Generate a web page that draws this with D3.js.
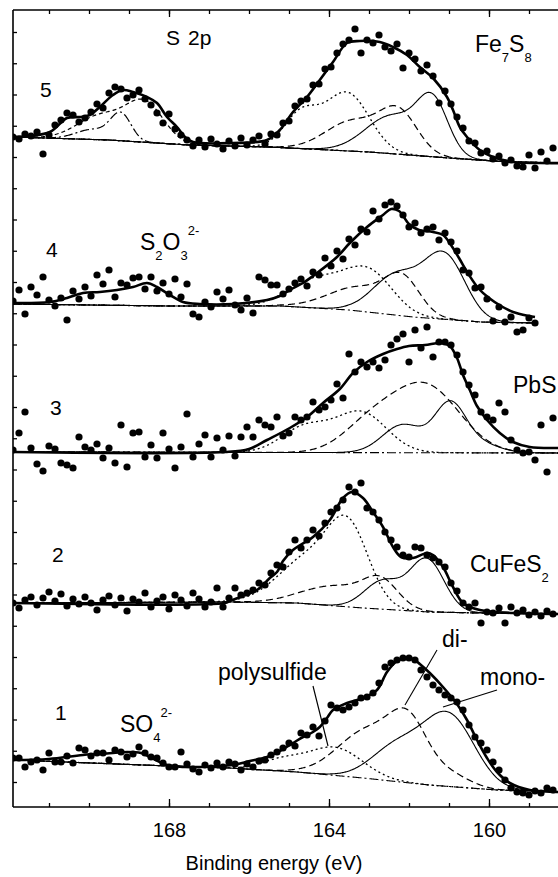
<!DOCTYPE html>
<html>
<head>
<meta charset="utf-8">
<script src="https://cdn.jsdelivr.net/npm/d3@7"></script>
<style>
  body { margin: 0; background: #fff; }
  text { font-family: "Liberation Sans", Arial, sans-serif; fill: #000; }
</style>
</head>
<body>
<div id="chart"></div>
<script>
// ---- data (binding energy in eV, intensity in arbitrary counts) ----
var spectrumLabels = ["1", "2", "3", "4", "5"];
var offsets = [47, 204, 355, 504, 670];      // vertical shift of each spectrum
var eStart = 171.9, eStep = 0.15;            // energy grid of the measured points
var xMajorTicks = [168, 164, 160];
var xMinorTicks = [159, 160, 161, 162, 163, 164, 165, 166, 167, 168, 169, 170, 171];

// measured points (relative to each spectrum's offset)
var dots1 = [2,2,-7,-2,0,-10,7,-2,-2,4, -3,12,10,4,7,7,0,10,8,3, 6,13,7,3,2,-3,-7,-7,8,-4,
  -9,-12,-5,-8,-3,-7,-2,-4,-10,-4, -7,-1,0,5,8,12,17,14,27,25, 33,24,39,55,52,50,53,57,62,63,
  67,77,93,97,100,102,102,100,90,83, 75,70,65,62,58,50,35,23,17,10, -2,-10,-20,-28,-32,-33,-35,-31,-33,-28, -30];
var dots2 = [0,-5,3,6,-2,5,11,2,9,-3, 4,-1,6,0,-7,3,7,-2,5,-8, 4,1,10,-4,2,6,-6,8,3,-3,
  10,4,-4,1,15,-4,5,15,8,10, 13,20,18,30,38,36,51,63,55,63, 73,67,80,91,95,103,116,111,120,95,
  91,83,71,63,56,48,46,56,55,48, 45,41,36,20,12,0,-4,0,-20,-9, -10,-5,-20,-4,-10,-7,-12,-9,-13,-8, -11];
var dots3 = [2,19,40,4,-12,-19,6,3,-11,-13, -16,15,5,2,8,-6,4,-11,27,-15, 19,20,-5,7,-6,19,3,-16,5,38,
  -5,8,17,-5,14,2,16,-4,15,25, 15,32,27,25,35,16,19,35,32,35, 50,42,45,52,68,54,98,80,90,85,
  90,84,92,107,113,118,90,122,104,125, 95,110,110,107,97,80,67,57,40,35, 32,49,40,12,2,-1,0,-8,27,-20, 34];
var dots4 = [2,13,-11,16,8,26,3,-3,5,-17, 12,4,16,7,28,19,33,6,20,18, 25,26,14,26,12,20,9,24,6,19,
  -11,-14,1,-4,11,4,13,-2,-7,5, -10,26,23,18,18,9,14,20,24,17, 31,28,45,37,52,44,64,58,74,71,
  92,84,98,101,97,88,76,80,70,74, 76,63,70,61,52,33,30,15,16,4, -18,-4,-19,-14,-29,-27,-15,-20];
var dots5 = [0,-2,3,1,5,-17,2,12,17,24, 22,15,19,25,33,29,44,50,48,39, 42,47,38,32,24,14,23,8,2,-3,
  -9,-3,-10,-2,-7,-12,-4,-9,-1,-8, -3,1,-7,3,2,14,16,31,36,38, 52,53,68,70,84,93,97,108,84,97,
  94,102,90,86,93,69,84,78,66,72, 61,34,46,33,20,9,-4,-6,-16,-14, -22,-19,-26,-23,-29,-30,-18,-31,-15,-24, -11];

// fitted envelopes [eV, intensity]
var env1 = [[171.9,0],[171.0,1],[170.15,5],[169.4,7],[169.05,8],[168.7,7],[168.48,3],[168.05,-5],[167.6,-7],[167.23,-7],
  [166.4,-5],[165.98,-1],[165.55,3],[165.23,9],[164.9,17],[164.65,23],[164.4,28],[164.23,33],[164.05,42],[163.9,50],
  [163.55,57],[163.15,62],[162.8,70],[162.55,88],[162.3,99],[162.1,102],[161.9,101],[161.73,96],[161.48,87],[161.15,73],
  [160.8,56],[160.55,40],[160.3,20],[160.05,2],[159.8,-12],[159.48,-23],[158.98,-30],[158.28,-32],[158.0,-32]];
var env2 = [[171.9,0],[166.6,0],[166.48,2],[166.15,7],[165.8,13],[165.48,25],[165.3,31],[165.15,42],[164.9,53],[164.4,66],
  [163.98,83],[163.65,105],[163.43,111],[163.15,105],[162.9,91],[162.65,76],[162.4,56],[162.2,46],[161.9,45],[161.55,50],
  [161.4,48],[161.15,36],[160.9,16],[160.65,0],[160.23,-7],[159.4,-10],[158.0,-11]];
var env3 = [[171.9,0],[166.6,0],[166.0,3],[165.55,12],[164.98,24],[164.55,35],[164.15,49],[163.73,63],[163.4,79],[163.05,90],
  [162.65,98],[162.3,103],[162.0,106],[161.6,107],[161.2,109],[160.98,106],[160.8,94],[160.65,77],[160.48,62],[160.3,46],
  [160.05,32],[159.73,19],[159.4,10],[158.98,5],[158.28,4],[158.0,4]];
var env4 = [[171.9,0],[170.98,1],[170.55,5],[170.15,10],[169.73,11],[169.3,13],[168.9,16],[168.55,20],[168.3,16],[167.98,8],
  [167.65,1],[167.23,-1],[166.4,-1],[165.55,3],[165.23,7],[164.98,13],[164.65,20],[164.3,30],[163.8,46],[163.48,60],
  [163.05,76],[162.65,88],[162.45,94],[162.25,92],[162.0,79],[161.75,73],[161.4,71],[161.15,68],[160.95,58],[160.75,45],
  [160.5,28],[160.25,14],[160.0,5],[159.7,-3],[159.4,-9],[159.0,-13],[158.85,-14]];
var env5 = [[171.9,0],[170.98,5],[170.55,19],[170.23,20],[169.98,22],[169.73,30],[169.4,42],[169.15,47],[168.9,45],[168.55,40],
  [168.3,34],[168.05,20],[167.8,10],[167.6,0],[167.4,-5],[166.4,-6],[165.55,-3],[165.23,7],[164.9,25],[164.55,40],
  [164.23,57],[163.9,75],[163.55,94],[163.23,96],[162.73,95],[162.4,90],[162.05,82],[161.73,70],[161.4,59],[161.05,40],
  [160.9,27],[160.73,10],[160.55,0],[160.23,-13],[159.9,-20],[159.4,-25],[158.73,-26],[158.0,-26]];

// backgrounds [eV, intensity]
var bg1 = [[171.9,0],[168,-6],[166.5,-8],[164.8,-12],[163.15,-18],[161.5,-25],[159.8,-30],[158.0,-32]];
var bg2 = [[171.9,0],[166.5,1],[164.8,0],[163.15,-5],[161.5,-9],[160.2,-10],[158.0,-11]];
var bg3 = [[171.9,0],[158.0,-1]];
var bg4 = [[171.9,-1],[168,-3],[165.2,-3],[163.5,-7],[161.9,-14],[160.2,-19],[158.85,-20]];
var bg5 = [[171.9,0],[169.5,-3],[167.5,-8],[165.5,-10],[163,-15],[161,-21],[159.5,-25],[158.0,-26]];

// fitted components: peaks [centre eV, height above background, FWHM eV]
var mono1 = [[161.0,70,1.5],[162.3,34,1.5]];
var di1   = [[162.0,50,1.1],[163.0,48,1.8],[161.0,12,1.2]];
var poly1 = [[163.85,28,1.6],[165.2,10,1.2]];
var mono2 = [[161.55,52,1.0],[162.65,28,1.1]];
var di2   = [[162.7,24,1.0],[163.8,20,2.0]];
var poly2 = [[163.5,70,1.2],[164.5,45,1.8]];
var mono3 = [[160.98,46,0.9],[162.15,28,1.2],[160.3,10,1.2]];
var di3   = [[161.6,67,2.0],[163.0,25,1.6]];
var poly3 = [[163.2,40,1.5],[164.6,25,1.4]];
var mono4 = [[161.1,62,1.2],[162.3,40,1.4]];
var di4   = [[162.15,32,1.0],[163.2,24,1.9]];
var poly4 = [[163.0,40,1.4],[164.3,28,1.6]];
var mono5 = [[161.4,50,0.9],[162.4,38,1.6]];
var di5   = [[162.25,40,1.1],[163.4,30,1.6]];
var poly5 = [[163.55,58,1.3],[164.7,34,1.0]];
var sulfA5 = [[168.6,38,1.1],[169.7,24,1.4]];
var sulfB5 = [[169.2,26,0.6],[169.9,10,1.0]];

var ends = [158.0, 158.0, 158.0, 158.85, 158.0];

// ---- build spectra table ----
var styles = {
  mono:  { dash: null,        w: 1.1 },
  di:    { dash: "7,4",       w: 1.2 },
  poly:  { dash: "2,3",       w: 1.3 },
  sulfA: { dash: "4,3",       w: 1.2 },
  sulfB: { dash: "9,3,2,3",   w: 1.2 }
};
var spectra = [
  { dots: dots1, env: env1, bg: bg1, comps: [["mono", mono1], ["di", di1], ["poly", poly1]] },
  { dots: dots2, env: env2, bg: bg2, comps: [["mono", mono2], ["di", di2], ["poly", poly2]] },
  { dots: dots3, env: env3, bg: bg3, comps: [["mono", mono3], ["di", di3], ["poly", poly3]] },
  { dots: dots4, env: env4, bg: bg4, comps: [["mono", mono4], ["di", di4], ["poly", poly4]] },
  { dots: dots5, env: env5, bg: bg5, comps: [["mono", mono5], ["di", di5], ["poly", poly5], ["sulfA", sulfA5], ["sulfB", sulfB5]] }
];
spectra.forEach(function(s, i) { s.offset = offsets[i]; s.end = ends[i]; s.label = spectrumLabels[i]; });

// ---- chart ----
var W = 558, H = 877;
var svg = d3.select("#chart").append("svg").attr("width", W).attr("height", H);

var x = d3.scaleLinear().domain([171.9, 158.0]).range([13, 569]);
var y = d3.scaleLinear().domain([0, 797]).range([807, 10]);

svg.append("clipPath").attr("id", "clip")
  .append("rect").attr("x", 13).attr("y", 10).attr("width", W - 13).attr("height", 797);

var plot = svg.append("g").attr("clip-path", "url(#clip)");

function gauss(e, p) {
  var d = e - p[0];
  return p[1] * Math.exp(-4 * Math.LN2 * d * d / (p[2] * p[2]));
}

var line = d3.line().x(function(d) { return x(d[0]); }).y(function(d) { return y(d[1]); });
var smooth = d3.line().x(function(d) { return x(d[0]); }).y(function(d) { return y(d[1]); })
  .curve(d3.curveCatmullRom.alpha(0.5));

spectra.forEach(function(s) {
  var bgS = d3.scaleLinear().domain(s.bg.map(function(d) { return d[0]; }))
    .range(s.bg.map(function(d) { return d[1]; }));
  var grid = d3.range(171.9, s.end - 0.001, -0.02);

  // background
  plot.append("path")
    .attr("d", line(grid.map(function(e) { return [e, s.offset + bgS(e)]; })))
    .attr("fill", "none").attr("stroke", "#000").attr("stroke-width", 1.1)
    .attr("stroke-dasharray", "9,3,2,3");

  // components
  s.comps.forEach(function(c) {
    var st = styles[c[0]];
    var pts = grid.map(function(e) {
      var v = s.offset + bgS(e);
      c[1].forEach(function(p) { v += gauss(e, p); });
      return [e, v];
    });
    plot.append("path").attr("d", line(pts))
      .attr("fill", "none").attr("stroke", "#000").attr("stroke-width", st.w)
      .attr("stroke-dasharray", st.dash);
  });

  // measured points
  plot.append("g").selectAll("circle").data(s.dots).enter().append("circle")
    .attr("cx", function(d, i) { return x(eStart - i * eStep); })
    .attr("cy", function(d) { return y(s.offset + d); })
    .attr("r", 3.6).attr("fill", "#000");

  // envelope
  plot.append("path")
    .attr("d", smooth(s.env.map(function(d) { return [d[0], s.offset + d[1]]; })))
    .attr("fill", "none").attr("stroke", "#000").attr("stroke-width", 2.6);
});

// ---- axes ----
var axG = svg.append("g").attr("stroke", "#000");
axG.append("line").attr("x1", 13).attr("x2", W).attr("y1", 807).attr("y2", 807).attr("stroke-width", 1.6);
axG.append("line").attr("x1", 13).attr("x2", W).attr("y1", 10).attr("y2", 10).attr("stroke-width", 1.6);
axG.append("line").attr("x1", 13).attr("x2", 13).attr("y1", 10).attr("y2", 807).attr("stroke-width", 1.6);

var axBottomMinor = svg.append("g").attr("transform", "translate(0,807)")
  .call(d3.axisBottom(x).tickValues(xMinorTicks).tickSize(-4).tickFormat(""));
var axBottomMajor = svg.append("g").attr("transform", "translate(0,807)")
  .call(d3.axisBottom(x).tickValues(xMajorTicks).tickSize(-8).tickPadding(16).tickFormat(d3.format("d")));
var axTopMinor = svg.append("g").attr("transform", "translate(0,10)")
  .call(d3.axisTop(x).tickValues(xMinorTicks).tickSize(-4).tickFormat(""));
var axTopMajor = svg.append("g").attr("transform", "translate(0,10)")
  .call(d3.axisTop(x).tickValues(xMajorTicks).tickSize(-7).tickFormat(""));
var axLeft = svg.append("g").attr("transform", "translate(13,0)")
  .call(d3.axisLeft(y).tickValues(d3.range(25, 797, 31.25)).tickSize(-4).tickFormat(""));

[axBottomMinor, axBottomMajor, axTopMinor, axTopMajor, axLeft].forEach(function(g) {
  g.select(".domain").remove();
  g.selectAll(".tick line").attr("stroke", "#000").attr("stroke-width", 1.3);
});
axBottomMajor.selectAll(".tick text").attr("font-size", 20)
  .attr("font-family", "Liberation Sans, Arial, sans-serif").attr("fill", "#000");

svg.append("text").attr("x", 274).attr("y", 870).attr("text-anchor", "middle")
  .attr("font-size", 20).text("Binding energy (eV)");

// ---- labels ----
var fs = 23, fsSmall = 13;
function label(xp, yp, parts, size) {
  var t = svg.append("text").attr("x", xp).attr("y", yp).attr("font-size", size || fs);
  parts.forEach(function(p) {
    var ts = t.append("tspan").text(p[0]);
    if (p[1] === "sub") ts.attr("font-size", fsSmall).attr("dy", 10);
    else if (p[1] === "sup") ts.attr("font-size", fsSmall).attr("dy", -25);
    else if (p[1] === "supOnly") ts.attr("font-size", fsSmall).attr("dy", -12);
    else if (p[1] === "back") ts.attr("dy", -10);
  });
  return t;
}
label(166, 45, [["S"]], 21);
label(188, 45, [["2p"]], 21);
label(475, 52, [["Fe"], ["7", "sub"], ["S", "back"], ["8", "sub"]]);
label(140, 250, [["S"], ["2", "sub"], ["O", "back"], ["3", "sub"], ["2-", "sup"]]);
label(513, 393, [["PbS"]]);
label(470, 572, [["CuFeS"], ["2", "sub"]]);
label(120, 732, [["SO"], ["4", "sub"], ["2-", "sup"]]);
label(218, 680, [["polysulfide"]]);
label(442, 647, [["di-"]]);
label(480, 685, [["mono-"]]);

var numPos = [[55, 720], [52, 562], [50, 415], [46, 257], [40, 97]];
spectra.forEach(function(s, i) {
  svg.append("text").attr("x", numPos[i][0]).attr("y", numPos[i][1]).attr("font-size", 21).text(s.label);
});

// pointer lines
var pointers = [[[313, 686], [328, 746]], [[437, 650], [405, 705]], [[497, 690], [443, 707]]];
pointers.forEach(function(p) {
  svg.append("line").attr("x1", p[0][0]).attr("y1", p[0][1]).attr("x2", p[1][0]).attr("y2", p[1][1])
    .attr("stroke", "#000").attr("stroke-width", 1.1);
});
</script>
</body>
</html>
